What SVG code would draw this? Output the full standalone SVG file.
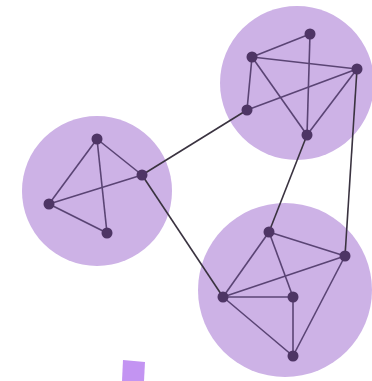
<svg xmlns="http://www.w3.org/2000/svg" width="372" height="381" viewBox="0 0 372 381">
<style>
.cl{fill:#cdb2e6}
.e{stroke:#5a4474;stroke-width:1.6;fill:none}
.x{stroke:#3a3340;stroke-width:1.6;fill:none}
.n{fill:#4e3565}
</style>
<rect width="372" height="381" fill="#fff"/>
<g id="cluster-left"><circle class="cl" cx="97" cy="191" r="75"/></g>
<g id="cluster-top"><circle class="cl" cx="297" cy="83" r="77"/></g>
<g id="cluster-bottom"><circle class="cl" cx="285" cy="290" r="87"/></g>
<g id="connectors">
<line class="e" x1="97" y1="139" x2="142" y2="175"/>
<line class="e" x1="97" y1="139" x2="49" y2="204"/>
<line class="e" x1="97" y1="139" x2="107" y2="233"/>
<line class="e" x1="49" y1="204" x2="142" y2="175"/>
<line class="e" x1="49" y1="204" x2="107" y2="233"/>
<line class="e" x1="252" y1="57" x2="310" y2="34"/>
<line class="e" x1="252" y1="57" x2="357" y2="69"/>
<line class="e" x1="252" y1="57" x2="247" y2="110"/>
<line class="e" x1="252" y1="57" x2="307" y2="135"/>
<line class="e" x1="310" y1="34" x2="307" y2="135"/>
<line class="e" x1="357" y1="69" x2="247" y2="110"/>
<line class="e" x1="357" y1="69" x2="307" y2="135"/>
<line class="e" x1="269" y1="232" x2="345" y2="256"/>
<line class="e" x1="269" y1="232" x2="223" y2="297"/>
<line class="e" x1="269" y1="232" x2="293" y2="297"/>
<line class="e" x1="223" y1="297" x2="345" y2="256"/>
<line class="e" x1="223" y1="297" x2="293" y2="297"/>
<line class="e" x1="223" y1="297" x2="293" y2="356"/>
<line class="e" x1="293" y1="297" x2="293" y2="356"/>
<line class="e" x1="345" y1="256" x2="293" y2="356"/>
<line class="x" x1="247" y1="110" x2="142" y2="175"/>
<line class="x" x1="142" y1="175" x2="223" y2="297"/>
<line class="x" x1="307" y1="135" x2="269" y2="232"/>
<line class="x" x1="357" y1="69" x2="345" y2="256"/>
</g>
<g id="n1"><circle class="n" cx="97" cy="139" r="5.5"/></g>
<g id="n2"><circle class="n" cx="142" cy="175" r="5.5"/></g>
<g id="n3"><circle class="n" cx="49" cy="204" r="5.5"/></g>
<g id="n4"><circle class="n" cx="107" cy="233" r="5.5"/></g>
<g id="n5"><circle class="n" cx="310" cy="34" r="5.5"/></g>
<g id="n6"><circle class="n" cx="252" cy="57" r="5.5"/></g>
<g id="n7"><circle class="n" cx="357" cy="69" r="5.5"/></g>
<g id="n8"><circle class="n" cx="247" cy="110" r="5.5"/></g>
<g id="n9"><circle class="n" cx="307" cy="135" r="5.5"/></g>
<g id="n10"><circle class="n" cx="269" cy="232" r="5.5"/></g>
<g id="n11"><circle class="n" cx="345" cy="256" r="5.5"/></g>
<g id="n12"><circle class="n" cx="223" cy="297" r="5.5"/></g>
<g id="n13"><circle class="n" cx="293" cy="297" r="5.5"/></g>
<g id="n14"><circle class="n" cx="293" cy="356" r="5.5"/></g>
<polygon points="123,360 145,362 144,381 122,381" fill="#c394f2"/>
</svg>
